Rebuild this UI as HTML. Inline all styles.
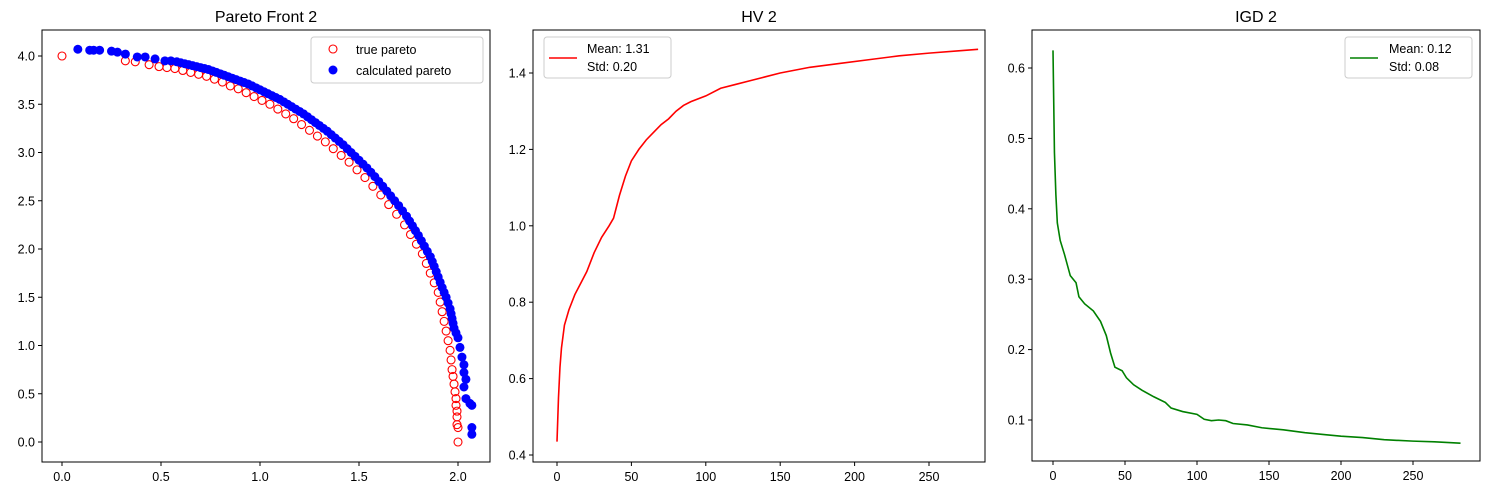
<!DOCTYPE html>
<html><head><meta charset="utf-8"><style>
body{margin:0;background:#fff;}
svg{display:block;font-family:"Liberation Sans","DejaVu Sans",sans-serif;}
</style></head><body>
<svg id="fig" width="1489" height="495" viewBox="0 0 1489 495"></svg>
<script>
const trueX=[0,0.32,0.37,0.44,0.49,0.53,0.57,0.61,0.65,0.69,0.73,0.77,0.81,0.85,0.89,0.93,0.97,1.01,1.05,1.09,1.13,1.17,1.21,1.25,1.29,1.33,1.37,1.41,1.45,1.49,1.53,1.57,1.61,1.65,1.69,1.73,1.76,1.79,1.82,1.84,1.86,1.88,1.90,1.91,1.92,1.93,1.94,1.95,1.96,1.965,1.97,1.975,1.98,1.985,1.99,1.99,1.995,1.995,1.995,2.0,2.0];
const trueY=[4,3.95,3.94,3.91,3.89,3.88,3.87,3.85,3.83,3.81,3.79,3.76,3.73,3.69,3.66,3.62,3.58,3.54,3.50,3.45,3.40,3.35,3.29,3.23,3.17,3.11,3.04,2.97,2.90,2.82,2.74,2.65,2.56,2.46,2.36,2.25,2.15,2.05,1.95,1.85,1.75,1.65,1.55,1.45,1.35,1.25,1.15,1.05,0.95,0.85,0.75,0.68,0.6,0.52,0.45,0.38,0.32,0.26,0.18,0.15,0.0];
const calcX=[0.08,0.14,0.16,0.19,0.25,0.28,0.32,0.38,0.42,0.47,0.52,0.55,0.58,0.60,0.62,0.64,0.66,0.68,0.70,0.72,0.74,0.76,0.78,0.80,0.82,0.84,0.86,0.88,0.90,0.92,0.94,0.96,0.98,1.00,1.02,1.04,1.06,1.08,1.10,1.12,1.14,1.16,1.18,1.20,1.22,1.24,1.26,1.28,1.30,1.32,1.34,1.36,1.38,1.40,1.42,1.44,1.46,1.48,1.50,1.52,1.54,1.56,1.58,1.60,1.62,1.64,1.66,1.68,1.70,1.72,1.74,1.755,1.77,1.785,1.80,1.815,1.83,1.845,1.86,1.87,1.88,1.89,1.90,1.91,1.92,1.93,1.94,1.95,1.96,1.965,1.97,1.975,1.98,1.99,2.0,2.01,2.02,2.03,2.03,2.04,2.03,2.04,2.06,2.07,2.07,2.07];
const calcY=[4.07,4.06,4.06,4.06,4.05,4.04,4.02,3.99,3.99,3.97,3.95,3.95,3.94,3.93,3.92,3.91,3.90,3.89,3.88,3.87,3.86,3.845,3.83,3.815,3.80,3.785,3.77,3.755,3.74,3.725,3.71,3.69,3.67,3.65,3.63,3.61,3.59,3.57,3.55,3.525,3.50,3.475,3.45,3.425,3.40,3.37,3.34,3.31,3.28,3.25,3.22,3.185,3.15,3.115,3.08,3.04,3.00,2.96,2.92,2.88,2.84,2.795,2.75,2.70,2.65,2.60,2.55,2.50,2.45,2.395,2.34,2.29,2.24,2.19,2.14,2.085,2.03,1.975,1.92,1.87,1.82,1.765,1.71,1.655,1.60,1.55,1.50,1.44,1.38,1.33,1.28,1.23,1.18,1.13,1.08,0.98,0.88,0.80,0.72,0.65,0.57,0.45,0.40,0.38,0.15,0.08];
const hvX=[0,1,2,3,5,8,12,16,20,25,30,35,38,42,46,50,55,60,65,70,75,80,85,90,100,110,120,130,140,150,170,190,210,230,250,270,283];
const hvY=[0.435,0.55,0.63,0.68,0.74,0.78,0.82,0.85,0.88,0.93,0.97,1.0,1.02,1.08,1.13,1.17,1.20,1.225,1.245,1.265,1.28,1.30,1.315,1.325,1.34,1.36,1.37,1.38,1.39,1.40,1.415,1.425,1.435,1.445,1.452,1.458,1.462];
const igdX=[0,1,2,3,5,8,12,16,18,22,28,33,37,40,43,48,51,56,62,70,78,82,90,100,105,110,115,120,125,135,145,160,175,190,200,215,230,250,265,283];
const igdY=[0.625,0.48,0.42,0.38,0.355,0.335,0.305,0.295,0.275,0.265,0.255,0.24,0.22,0.195,0.175,0.17,0.16,0.15,0.142,0.133,0.125,0.117,0.112,0.108,0.101,0.099,0.1,0.099,0.095,0.093,0.089,0.086,0.082,0.079,0.077,0.075,0.072,0.07,0.069,0.067];
const p1XTicks=[0,0.5,1.0,1.5,2.0];
const p1YTicks=[0,0.5,1.0,1.5,2.0,2.5,3.0,3.5,4.0];
const iterTicks=[0,50,100,150,200,250];
const hvYTicks=[0.4,0.6,0.8,1.0,1.2,1.4];
const igdYTicks=[0.1,0.2,0.3,0.4,0.5,0.6];

const NS="http://www.w3.org/2000/svg";
const svg=document.getElementById('fig');
function mk(tag,attrs,parent){const e=document.createElementNS(NS,tag);for(const k in attrs)e.setAttribute(k,attrs[k]);(parent||svg).appendChild(e);return e;}
function lin(d0,d1,r0,r1){return v=>r0+(v-d0)*(r1-r0)/(d1-d0);}

function panel(name,box,sx,sy,xt,yt,xfmt,yfmt,title){
  const g=mk('g',{});
  
  
  const t=mk('text',{x:(box[0]+box[2])/2,y:22,'text-anchor':'middle','font-size':16,fill:'#000'},g);
  t.textContent=title;
  
  
  xt.forEach(v=>{const x=sx(v);mk('line',{x1:x,x2:x,y1:box[3],y2:box[3]+4,stroke:'#000'},g);
    const l=mk('text',{x:x,y:box[3]+19,'text-anchor':'middle','font-size':12.5},g);l.textContent=xfmt(v);
    
    });
  yt.forEach(v=>{const y=sy(v);mk('line',{x1:box[0]-4,x2:box[0],y1:y,y2:y,stroke:'#000'},g);
    const l=mk('text',{x:box[0]-7,y:y+4.5,'text-anchor':'end','font-size':12.5},g);l.textContent=yfmt(v);
    
    });
  return g;
}
function frame(g,box){const r=mk('rect',{x:box[0],y:box[1],width:box[2]-box[0],height:box[3]-box[1],fill:'none',stroke:'#000','stroke-width':1},g);
  
  }

// Panel 1
const b1=[42,30,490,462];
const s1x=lin(0,2,62,458), s1y=lin(0,4,442,56);
const g1=panel('pareto-front-panel',b1,s1x,s1y,p1XTicks,p1YTicks,v=>v.toFixed(1),v=>v.toFixed(1),'Pareto Front 2');
trueX.forEach((x,i)=>{const c=mk('circle',{cx:s1x(x),cy:s1y(trueY[i]),r:4,fill:'none',stroke:'#ff0000','stroke-width':1.1},g1);
  
  });
calcX.forEach((x,i)=>{const c=mk('circle',{cx:s1x(x),cy:s1y(calcY[i]),r:4.5,fill:'#0000ff'},g1);
  
  });
frame(g1,b1);
const lg1=mk('g',{},g1);


mk('rect',{x:311,y:37,width:172,height:46,rx:3,fill:'#fff','fill-opacity':0.8,stroke:'#ccc'},lg1);
mk('circle',{cx:333,cy:49,r:4,fill:'none',stroke:'#f00','stroke-width':1.1},lg1);
mk('circle',{cx:333,cy:70,r:4.5,fill:'#00f'},lg1);
let tt=mk('text',{x:356,y:54,'font-size':12.5},lg1);tt.textContent='true pareto';
tt=mk('text',{x:356,y:75,'font-size':12.5},lg1);tt.textContent='calculated pareto';

// Panel 2
const b2=[533,30,985,462];
const s2x=lin(0,250,557,929), s2y=lin(0.4,1.4,455,73);
const g2=panel('hv-panel',b2,s2x,s2y,iterTicks,hvYTicks,v=>String(v),v=>v.toFixed(1),'HV 2');
const hl=mk('polyline',{points:hvX.map((x,i)=>s2x(x)+','+s2y(hvY[i])).join(' '),fill:'none',stroke:'#ff0000','stroke-width':1.6},g2);


frame(g2,b2);
const lg2=mk('g',{},g2);


mk('rect',{x:544,y:37,width:127,height:41,rx:3,fill:'#fff','fill-opacity':0.8,stroke:'#ccc'},lg2);
mk('line',{x1:549,x2:577,y1:58,y2:58,stroke:'#f00','stroke-width':1.6},lg2);
tt=mk('text',{x:587,y:53,'font-size':12.5},lg2);tt.textContent='Mean: 1.31';
tt=mk('text',{x:587,y:71,'font-size':12.5},lg2);tt.textContent='Std: 0.20';

// Panel 3
const b3=[1032,30,1480,461];
const s3x=lin(0,250,1053,1413), s3y=lin(0.1,0.6,420,68);
const g3=panel('igd-panel',b3,s3x,s3y,iterTicks,igdYTicks,v=>String(v),v=>v.toFixed(1),'IGD 2');
const il=mk('polyline',{points:igdX.map((x,i)=>s3x(x)+','+s3y(igdY[i])).join(' '),fill:'none',stroke:'#008000','stroke-width':1.6},g3);


frame(g3,b3);
const lg3=mk('g',{},g3);


mk('rect',{x:1345,y:37,width:127,height:41,rx:3,fill:'#fff','fill-opacity':0.8,stroke:'#ccc'},lg3);
mk('line',{x1:1350,x2:1378,y1:58,y2:58,stroke:'#008000','stroke-width':1.6},lg3);
tt=mk('text',{x:1389,y:53,'font-size':12.5},lg3);tt.textContent='Mean: 0.12';
tt=mk('text',{x:1389,y:71,'font-size':12.5},lg3);tt.textContent='Std: 0.08';
</script>
</body></html>
